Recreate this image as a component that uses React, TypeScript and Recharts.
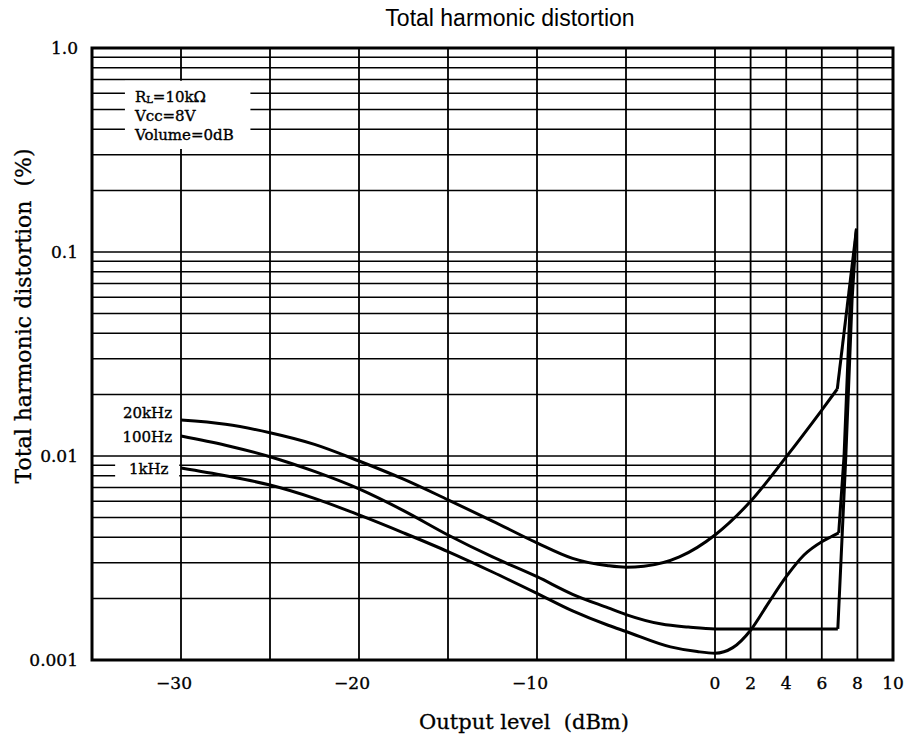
import { Line, LineChart, ReferenceArea, ReferenceDot, ReferenceLine, XAxis, YAxis } from 'recharts'

const SERIF = '"DejaVu Serif", "Liberation Serif", serif'
const SANS = '"Liberation Sans", Arial, sans-serif'
const INK = '#000'

// axes: output level (dBm), linear; THD (%), log
const X_DOMAIN = [-35, 10]
const X_TICKS = [-30, -20, -10, 0, 2, 4, 6, 8, 10]
const X_GRID = [-30, -25, -20, -15, -10, -5, 0, 2, 4, 6, 8]
const Y_DOMAIN = [0.001, 1]
const Y_TICKS = [0.001, 0.01, 0.1, 1]
const Y_TICK_LABELS = ['0.001', '0.01', '0.1', '1.0']
const Y_GRID = [
  0.002, 0.003, 0.004, 0.005, 0.006, 0.007, 0.008, 0.009,
  0.01, 0.02, 0.03, 0.04, 0.05, 0.06, 0.07, 0.08, 0.09,
  0.1, 0.2, 0.3, 0.4, 0.5, 0.6, 0.7, 0.8, 0.9,
]

// 20kHz
const LEVEL_20K = [-30, -27.5, -25, -22.5, -20, -17.5, -15, -12.5, -10, -8, -6, -5, -4, -2, 0, 2, 4, 6, 6.87]
const THD_20K = [0.015, 0.0143, 0.013, 0.0114, 0.00945, 0.0077, 0.0061, 0.0048, 0.00375, 0.00315, 0.0029, 0.00285, 0.00288, 0.0032, 0.0041, 0.006, 0.0099, 0.0168, 0.0213]
const LEVEL_20K_CLIP = [6.87, 7.95]
const THD_20K_CLIP = [0.0213, 0.13]

// 100Hz
const LEVEL_100 = [-30, -27.5, -25, -22.5, -20, -17.5, -15, -12.5, -10, -8, -6, -5, -3, -1.5, 0, 2, 4, 6.9]
const THD_100 = [0.01253, 0.0113, 0.00992, 0.0084, 0.0069, 0.0054, 0.0041, 0.0032, 0.00256, 0.0021, 0.0018, 0.00167, 0.0015, 0.00145, 0.00142, 0.00142, 0.00142, 0.00142]
const LEVEL_100_CLIP = [6.9, 7.15, 7.35, 7.7, 7.95]
const THD_100_CLIP = [0.00142, 0.0042, 0.01, 0.058, 0.13]

// 1kHz
const LEVEL_1K = [-30, -27.5, -25, -22.5, -20, -17.5, -15, -12.5, -10, -8, -6, -5, -2.5, -1, 0, 1, 2, 3, 4, 5, 6, 6.5, 6.95]
const THD_1K = [0.00873, 0.008, 0.00721, 0.0062, 0.00514, 0.0042, 0.0034, 0.0027, 0.00212, 0.00174, 0.00148, 0.00138, 0.00116, 0.0011, 0.00108, 0.00115, 0.0014, 0.0019, 0.00256, 0.00327, 0.0038, 0.00401, 0.0042]
const LEVEL_1K_CLIP = [6.95, 7.25, 7.6, 7.95]
const THD_1K_CLIP = [0.0042, 0.01, 0.058, 0.13]

const CURVE_NAMES = ['20kHz', '100Hz', '1kHz']
const CURVE_LABEL_X = [-30.5, -30.5, -30.7]
const CURVE_LABEL_Y = [0.0162, 0.0124, 0.0086]

const NOTES = ['=10kΩ', 'Vcc=8V', 'Volume=0dB']

const zip = (xs: number[], ys: number[]) => xs.map((x, i) => ({ x, y: ys[i] }))

const SERIES = [
  { key: '20k', data: zip(LEVEL_20K, THD_20K), type: 'monotone' },
  { key: '20k-clip', data: zip(LEVEL_20K_CLIP, THD_20K_CLIP), type: 'linear' },
  { key: '100', data: zip(LEVEL_100, THD_100), type: 'monotone' },
  { key: '100-clip', data: zip(LEVEL_100_CLIP, THD_100_CLIP), type: 'linear' },
  { key: '1k', data: zip(LEVEL_1K, THD_1K), type: 'monotone' },
  { key: '1k-clip', data: zip(LEVEL_1K_CLIP, THD_1K_CLIP), type: 'linear' },
]

// scanned print looks a touch heavier than the plain face
const HEAVY = { stroke: INK, strokeWidth: 0.35 }

function XTick({ x, y, payload }: any) {
  const v = payload.value as number
  const neg = v < 0
  return (
    <text
      x={neg ? x + 11 : x}
      y={y}
      dy="0.71em"
      textAnchor={neg ? 'end' : 'middle'}
      fontFamily={SERIF}
      fontSize={17}
      fill={INK}
      {...HEAVY}
    >
      {neg ? `\u2212${-v}` : v}
    </text>
  )
}

function NoteLabel({ viewBox }: any) {
  const { x, y } = viewBox
  return (
    <text x={x + 10} y={y} fontFamily={SERIF} fontSize={15} fill={INK} dominantBaseline="central" {...HEAVY}>
      <tspan x={x + 10} dy={16}>
        R<tspan fontSize={10} dy={2}>L</tspan>
        <tspan dy={-2}>{NOTES[0]}</tspan>
      </tspan>
      <tspan x={x + 10} dy={19}>{NOTES[1]}</tspan>
      <tspan x={x + 10} dy={19}>{NOTES[2]}</tspan>
    </text>
  )
}

function CurveLabel({ viewBox, text }: any) {
  return (
    <text
      x={viewBox.x}
      y={viewBox.y}
      textAnchor="end"
      dominantBaseline="central"
      fontFamily={SERIF}
      fontSize={15}
      fill={INK}
      {...HEAVY}
    >
      {text}
    </text>
  )
}

export default function App() {
  return (
    <div style={{ position: 'absolute', left: 0, top: 0, width: 910, height: 748, background: '#fff' }}>
      <LineChart width={910} height={748} margin={{ top: 48, right: 17, bottom: 58, left: 22 }}>
        <XAxis
          type="number"
          dataKey="x"
          domain={X_DOMAIN}
          ticks={X_TICKS}
          interval={0}
          height={30}
          axisLine={false}
          tickLine={false}
          tickSize={6}
          tickMargin={11}
          tick={<XTick />}
          allowDataOverflow
        />
        <YAxis
          type="number"
          dataKey="y"
          scale="log"
          domain={Y_DOMAIN}
          ticks={Y_TICKS}
          interval={0}
          width={70}
          axisLine={false}
          tickLine={false}
          tickSize={6}
          tickMargin={8}
          tickFormatter={(v: number) => Y_TICK_LABELS[Y_TICKS.indexOf(v)] ?? String(v)}
          tick={{ fill: INK, fontFamily: SERIF, fontSize: 17, ...HEAVY }}
          allowDataOverflow
        />

        {X_GRID.map((v) => (
          <ReferenceLine key={`gx${v}`} x={v} stroke={INK} strokeWidth={1.8} zIndex={-90} />
        ))}
        {Y_GRID.map((v) => (
          <ReferenceLine key={`gy${v}`} y={v} stroke={INK} strokeWidth={1.5} zIndex={-90} />
        ))}

        {/* white patches behind the notes and the 1kHz label */}
        <ReferenceArea
          x1={-33.15}
          x2={-26.1}
          y1={0.32}
          y2={0.69}
          fill="#fff"
          fillOpacity={1}
          stroke="none"
          zIndex={-80}
          label={<NoteLabel />}
        />
        <ReferenceArea x1={-33.7} x2={-30.1} y1={0.0076} y2={0.0097} fill="#fff" fillOpacity={1} stroke="none" zIndex={-80} />

        {SERIES.map((s) => (
          <Line
            key={s.key}
            data={s.data}
            dataKey="y"
            type={s.type as any}
            stroke={INK}
            strokeWidth={3}
            dot={false}
            activeDot={false}
            isAnimationActive={false}
          />
        ))}

        <ReferenceArea
          x1={X_DOMAIN[0]}
          x2={X_DOMAIN[1]}
          y1={Y_DOMAIN[0]}
          y2={Y_DOMAIN[1]}
          fill="none"
          fillOpacity={0}
          stroke={INK}
          strokeWidth={3}
          zIndex={450}
        />

        {CURVE_NAMES.map((n, i) => (
          <ReferenceDot
            key={n}
            x={CURVE_LABEL_X[i]}
            y={CURVE_LABEL_Y[i]}
            r={0}
            fill="none"
            stroke="none"
            label={<CurveLabel text={n} />}
          />
        ))}
      </LineChart>

      <div
        style={{
          position: 'absolute',
          left: 510,
          top: 18,
          transform: 'translate(-50%, -50%)',
          whiteSpace: 'nowrap',
          fontFamily: SANS,
          fontSize: 23,
          color: INK,
        }}
      >
        Total harmonic distortion
      </div>
      <div
        style={{
          position: 'absolute',
          left: 524,
          top: 722,
          transform: 'translate(-50%, -50%)',
          whiteSpace: 'pre',
          fontFamily: SERIF,
          fontSize: 21,
          color: INK,
          WebkitTextStroke: '0.3px #000',
        }}
      >
        {'Output level  (dBm)'}
      </div>
      <div
        style={{
          position: 'absolute',
          left: 23,
          top: 316,
          transform: 'translate(-50%, -50%) rotate(-90deg)',
          whiteSpace: 'pre',
          fontFamily: SERIF,
          fontSize: 22,
          color: INK,
          WebkitTextStroke: '0.3px #000',
        }}
      >
        {'Total harmonic distortion  (%)'}
      </div>
    </div>
  )
}
